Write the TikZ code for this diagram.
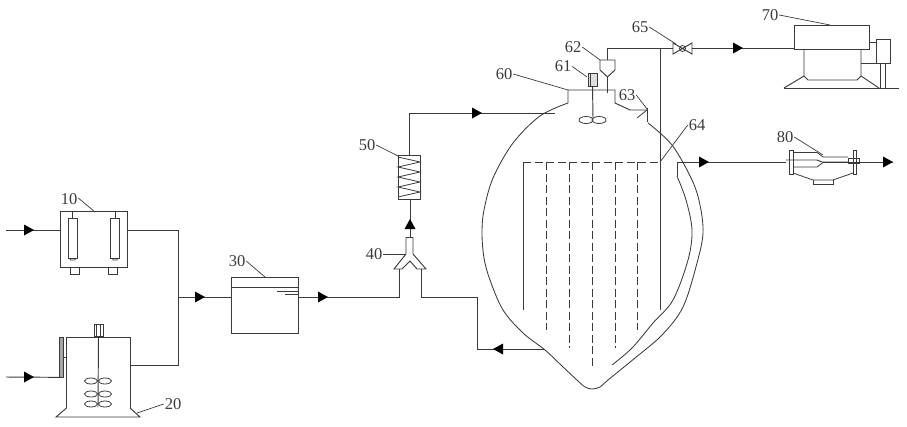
\documentclass[tikz,border=0pt]{standalone}
\usepackage{fontspec}
\setmainfont{Liberation Serif}
\definecolor{ink}{HTML}{3A3A3A}
\tikzset{
  pipe/.style={draw=ink,line width=0.95pt,line join=miter},
  thin part/.style={draw=ink,line width=0.8pt},
  equip/.style={draw=ink,line width=0.95pt,rectangle,inner sep=0pt,outer sep=0pt},
  tag/.style={font=\fontsize{16.5}{17}\selectfont,text=ink,inner sep=0pt,outer sep=1pt},
  leader/.style={draw=ink,line width=0.7pt},
  dashpipe/.style={draw=ink,line width=0.95pt,dash pattern=on 8pt off 3.5pt},
  head/.style={fill=black,draw=none},
}
\newcommand\flowR[1]{\fill[head] (#1) ++(-5,-5.5) -- ++(10,5.5) -- ++(-10,5.5) -- cycle;}
\newcommand\flowL[1]{\fill[head] (#1) ++(5,-5.5) -- ++(-10,5.5) -- ++(10,5.5) -- cycle;}
\newcommand\flowU[1]{\fill[head] (#1) ++(-5.5,5) -- ++(5.5,-10) -- ++(5.5,10) -- cycle;}
\begin{document}
\begin{tikzpicture}[x=1pt,y=-1pt]
\useasboundingbox (0,0) rectangle (907,426);
% ---------- unit 10
\node[equip,minimum width=67pt,minimum height=55.5pt] (u10) at (94,239.5) {};
\node[equip,minimum width=9pt,minimum height=40pt] (t1) at (72.5,238) {};
\node[equip,minimum width=9pt,minimum height=40pt] (t2) at (115,238) {};
\draw[thin part] (t1.north) -- (t1.north |- u10.north);
\draw[thin part] (t2.north) -- (t2.north |- u10.north);
\draw[thin part] (70,258) -- (70.5,260) -- (75,260) -- (75.5,258);
\draw[thin part] (112.5,258) -- (113,260) -- (117,260) -- (117.5,258);
\draw[thin part] (70.5,267) -- (70.5,274) -- (79,274) -- (79,267);
\draw[thin part] (108.5,267) -- (108.5,274) -- (117,274) -- (117,267);
\coordinate (in1) at (6,230);
\coordinate (j1) at (178,230);
\coordinate (j2) at (178,297);
\coordinate (j3) at (178,365);
\draw[pipe] (in1) -- (u10.west |- in1);
\draw[pipe] (u10.east |- in1) -- (j1) -- (j3) -- (130,365);
\flowR{29,230}
% ---------- unit 20
\draw[pipe] (66.5,408) -- (66.5,337) -- (130,337) -- (130,408);
\draw[pipe] (66.5,408) -- (56,417) -- (140,417) -- (130,408);
\coordinate (u20w) at (66.5,358);
\node[equip,minimum width=9pt,minimum height=12pt] (m20) at (98.5,330) {};
\draw[thin part] (96.5,324) -- (96.5,336) (100.5,324) -- (100.5,336);
\draw[pipe] (m20.south) -- (98,407);
\foreach \yy in {381,394,404}{
  \draw[thin part] (91,\yy) ellipse (6.5 and 3);
  \draw[thin part] (105,\yy) ellipse (6.5 and 3);
}
\node[draw=ink,fill=gray!70,line width=0.7pt,inner sep=0pt,minimum width=4pt,minimum height=40pt] (plate) at (61,357) {};
\draw[thin part] (plate.east) -- (u20w);
\coordinate (in2) at (6,377);
\draw[pipe] (in2) -- (plate.south);
\flowR{29,377}
% ---------- unit 30
\node[equip,minimum width=67pt,minimum height=56pt] (u30) at (264.5,305) {};
\draw[pipe] (231,287) -- (298,287);
\draw[thin part] (277,291) -- (298,291) (285,294.5) -- (298,294.5);
\draw[pipe] (j2) -- (u30.west |- j2);
\flowR{200,297}
% ---------- Y junction 40
\coordinate (y1) at (399,269);
\coordinate (y2) at (421,269);
\draw[pipe] (406,254) -- (406,237.5) -- (413,237.5) -- (413,254)
  -- (426,269) -- (417,269) -- (410,261) -- (402,269) -- (394,269) -- cycle;
\draw[pipe] (u30.east |- j2) -- (399,297) -- (y1);
\flowR{323,297}
\coordinate (ret) at (545,349);
\draw[pipe] (y2) -- (421,297) -- (477,297) -- (477,349) -- (ret);
\flowL{498,349}
% ---------- unit 50
\node[equip,minimum width=22pt,minimum height=44pt] (u50) at (409,177) {};
\draw[thin part] (398,157) -- (420,162) -- (398,167) -- (420,172) -- (398,177) -- (420,182) -- (398,187) -- (420,192) -- (398,197);
\draw[pipe] (410,237.5) -- (410,199);
\flowU{410,224}
\coordinate (feed) at (555,113);
\draw[pipe] (u50.north) -- (409,113) -- (feed);
\flowR{477,113}
% ---------- vessel 60
\draw[draw=ink,line width=0.85pt] plot[smooth,tension=0.55] coordinates {(568,103) (540,116) (513,143) (493,178) (484,210) (482,233) (484,258) (490,280) (503,310) (523,333) (545,350) (562,366) (578,381) (585,387) (592,389) (600,387) (608,380) (635,358) (662,335) (683,307) (697,263) (703,233) (700,205) (692,180) (672,145) (648,123)};
\draw[pipe] (568,103) -- (568,90) -- (615,90) -- (615,103) -- (630,110) -- (647,110);
\draw[pipe] (647,108) -- (647,122);
\draw[thin part] (637,118) -- (647,110);
% jacket
\coordinate (jack) at (677,162);
\draw[draw=ink,line width=0.85pt] (jack) -- (677,176);
\draw[draw=ink,line width=0.85pt] plot[smooth,tension=0.55] coordinates {(677,176) (686,200) (692,230) (688,260) (673,300) (653,323) (632,348) (612,365)};
% internals
\draw[pipe] (523,310) -- (523,162);
\draw[dashpipe] (523,162) -- (660,162);
\foreach \xx/\yy in {546/330,569/348,592/366,615/348,637/330}{
  \draw[dashpipe] (\xx,162) -- (\xx,\yy);
}
\draw[pipe] (660,48) -- (660,310);
% stirrer 61
\node[equip,minimum width=9pt,minimum height=13pt,fill=gray!25] (m61) at (592.5,79.5) {};
\draw[thin part] (590,73) -- (590,86);
\draw[pipe] (m61.south) -- (593,118);
\draw[thin part] (586,120) ellipse (7 and 3.5);
\draw[thin part] (599,120) ellipse (7 and 3.5);
% hopper 62
\draw[pipe] (600,60) -- (615,60) -- (615,70) -- (607.5,77) -- (600,70) -- cycle;
\draw[pipe] (607.5,77) -- (607.5,93);
\coordinate (valvein) at (673,48);
\draw[pipe] (607.5,60) -- (607.5,48) -- (valvein);
% valve 65
\draw[pipe] (673,43) -- (673,54) -- (692,43) -- (692,54) -- cycle;
\node[draw=ink,line width=0.8pt,circle,inner sep=0pt,minimum size=6pt] (v65) at (682.5,48.5) {};
% ---------- unit 70
\node[equip,minimum width=75pt,minimum height=24pt] (u70) at (831.5,37) {};
\coordinate (valveout) at (692,48);
\draw[pipe] (valveout) -- (794,48);
\flowR{738,48}
\draw[pipe] (804,49) -- (804,76) -- (808,80) -- (857,80) -- (861,76) -- (861,49);
\draw[pipe] (784,88) -- (899,88);
\draw[pipe] (804,76) -- (784,88) (861,76) -- (879,88);
\node[equip,minimum width=14pt,minimum height=24pt] (m70) at (883,51) {};
\draw[pipe] (869,42) -- (876,42) (861,63) -- (876,63);
\draw[pipe] (880,63) -- (880,88) (885,63) -- (885,88);
% ---------- unit 80
\coordinate (out) at (893,162);
\draw[pipe] (jack) -- (786,162);
\draw[pipe] (848,162) -- (out);
\flowR{704,162}
\flowR{888,162}
\draw[pipe] (789,150) rectangle (793,174);
\draw[pipe] (853,150) rectangle (856.5,174);
\draw[thin part] (793,152.5) -- (817,152.5) -- (823,157) -- (848,157);
\draw[thin part] (793,167) -- (817,167) -- (823,162.5) -- (848,162.5);
\draw[pipe] (786,160) -- (817,160) -- (822,162) -- (848,162);
\draw[thin part] (848,158.5) rectangle (859,163);
\draw[thin part] (793,173) -- (813,180) -- (833,180) -- (853,173);
\draw[thin part] (813,180) -- (813,184) -- (833,184) -- (833,180);
% ---------- labels and leaders
\node[tag] (l10) at (69,199) {10};
\draw[leader] (l10.east) ++(0,-1) -- (95,212);
\node[tag] (l20) at (173,404) {20};
\draw[leader] (l20.west) -- (137,413);
\node[tag] (l30) at (237,261) {30};
\draw[leader] (l30.east) -- (265,277);
\node[tag] (l40) at (374,254) {40};
\draw[leader] (l40.east) -- (405,254);
\node[tag] (l50) at (367,145) {50};
\draw[leader] (l50.east) -- (398,156);
\node[tag] (l60) at (504,74) {60};
\draw[leader] (l60.east) -- (568,90);
\node[tag] (l61) at (563,66.5) {61};
\draw[leader] (l61.east) -- (587,77);
\node[tag] (l62) at (573,47) {62};
\draw[leader] (l62.east) -- (600,60);
\node[tag] (l63) at (627,95) {63};
\draw[leader] (l63.east) -- (647,109);
\node[tag] (l64) at (697,125) {64};
\draw[leader] (l64.west) -- (660,162);
\node[tag] (l65) at (640,27) {65};
\draw[leader] (l65.east) -- (676,44);
\node[tag] (l70) at (770,15) {70};
\draw[leader] (l70.east) -- (830,25);
\node[tag] (l80) at (785,137) {80};
\draw[leader] (l80.east) -- (823,155);
\end{tikzpicture}
\end{document}
